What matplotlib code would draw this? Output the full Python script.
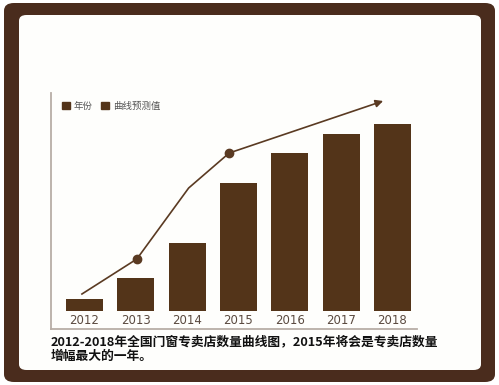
import matplotlib.pyplot as plt
from matplotlib.patches import FancyBboxPatch, Patch

plt.rcParams['font.family'] = ['Noto Sans CJK SC', 'DejaVu Sans']

# bar data (arbitrary units)
years = ['2012', '2013', '2014', '2015', '2016', '2017', '2018']
counts = [12, 33, 68, 128, 158, 177, 187]

# forecast curve (x in bar positions, last point is the arrow tip)
curve_x = [-0.05, 1.02, 2.03, 2.82, 5.82]
curve_y = [17, 52, 123, 158, 210]
marked = [1, 3]

bar_color = '#533419'
line_color = '#5a3a22'
frame_color = '#4a2c1d'

fig = plt.figure(figsize=(4.99, 3.85), dpi=100)
W, H = 499, 385

# outer brown frame and inner white panel
fig.patches.append(FancyBboxPatch((4 / W, 3 / H), 491 / W, 379 / H,
                                  boxstyle='round,pad=0,rounding_size=0.02',
                                  transform=fig.transFigure, fc=frame_color, ec='none', zorder=-2))
fig.patches.append(FancyBboxPatch((19 / W, 15 / H), 462 / W, 355 / H,
                                  boxstyle='round,pad=0,rounding_size=0.015',
                                  transform=fig.transFigure, fc='#fefefc', ec='none', zorder=-1))

ax = fig.add_axes([51 / W, 1 - 329 / H, (417 - 51) / W, (329 - 93) / H])
ax.patch.set_visible(False)
ax.set_xlim(-0.653, 6.48)
ax.set_ylim(-18, 218)

xs = list(range(len(years)))
ax.bar(xs, counts, width=0.72, color=bar_color, zorder=2)

# year labels sit between bars and the axis line
for x, lab in zip(xs, years):
    ax.text(x, -9, lab, ha='center', va='center', fontsize=8.5,
            color='#5a4a40', family='DejaVu Sans')

ax.plot(curve_x[:-1], curve_y[:-1], color=line_color, lw=1.2,
        marker='o', markevery=marked, markersize=6, zorder=3)
ax.annotate('', xy=(curve_x[-1], curve_y[-1]), xytext=(curve_x[-2], curve_y[-2]),
            arrowprops=dict(arrowstyle='-|>', color=line_color, lw=1.2,
                            mutation_scale=11, shrinkA=0, shrinkB=0), zorder=3)

ax.set_xticks([])
ax.set_yticks([])
for side in ['top', 'right']:
    ax.spines[side].set_visible(False)
for side in ['left', 'bottom']:
    ax.spines[side].set_color('#b8aea6')
    ax.spines[side].set_linewidth(1.3)

handles = [Patch(color=bar_color, label='年份'), Patch(color=bar_color, label='曲线预测值')]
ax.legend(handles=handles, loc='upper left', bbox_to_anchor=(0.008, 1.0), ncol=2,
          frameon=False, fontsize=6.8, handlelength=0.8, handleheight=0.8,
          handletextpad=0.4, columnspacing=0.9, labelcolor='#555555')

fig.text(51 / W, 1 - 342 / H, '2012-2018年全国门窗专卖店数量曲线图，2015年将会是专卖店数量',
         fontsize=9.2, fontweight='bold', color='#111111', va='center', ha='left')
fig.text(51 / W, 1 - 356 / H, '增幅最大的一年。',
         fontsize=9.2, fontweight='bold', color='#111111', va='center', ha='left')

fig.savefig('out.png', dpi=100, facecolor='white')
